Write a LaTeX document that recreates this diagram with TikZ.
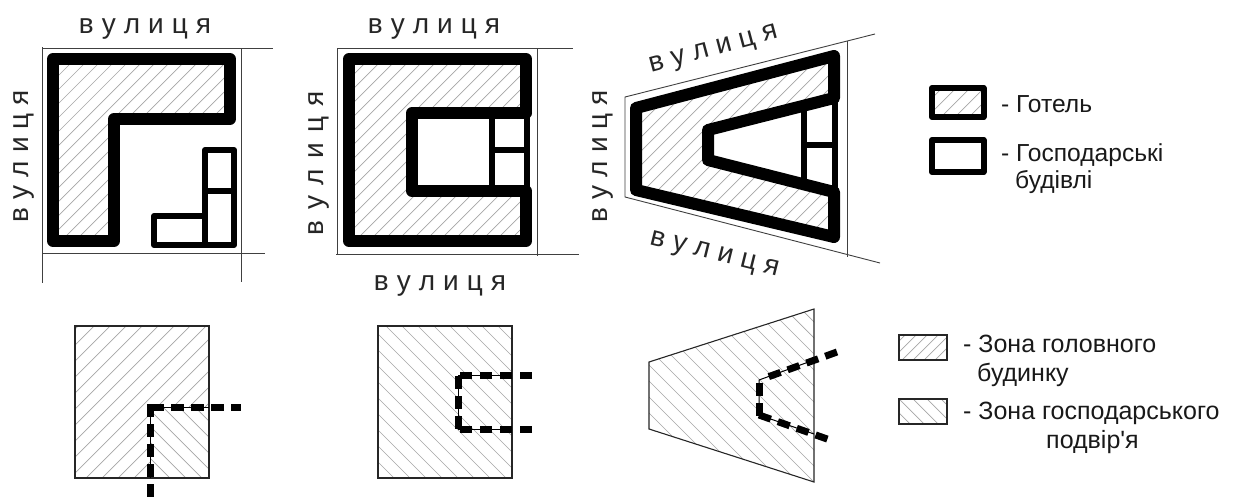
\documentclass[tikz,border=0pt]{standalone}
\usepackage{fontspec}
\setmainfont[Ligatures=TeXOff]{Liberation Sans}
\tikzset{
  street/.style={draw=black!75,line width=0.9pt},
  streetlabel/.style={font=\fontsize{28}{32}\selectfont,text=black!85,inner sep=0pt,anchor=base},
  hotelwall/.style={draw=black,line width=12pt,line join=round,line cap=round},
  legendwall/.style={draw=black,line width=6pt,line join=round},
  outwall/.style={draw=black,line width=6pt,line join=round},
  hatchline/.style={draw=black!35,line width=0.7pt},
  border/.style={draw=black!85,line width=1.1pt},
  thinline/.style={draw=black,line width=1pt},
  bold dash/.style={draw=black,line width=7pt,dash pattern=on 12.5pt off 7.5pt},
  legendtext/.style={font=\fontsize{24.6}{28}\selectfont,text=black!90,inner sep=0pt,anchor=base west},
  legendtextb/.style={font=\fontsize{25}{28}\selectfont,text=black!90,inner sep=0pt,anchor=base west},
}
\newcommand{\hatchF}[1]{\foreach \k in {0,#1,...,2400}{\draw[hatchline] (\k-900,600)--(\k-300,0);}}
\newcommand{\hatchB}[1]{\foreach \k in {0,#1,...,2400}{\draw[hatchline] (\k-900,0)--(\k-300,600);}}
\newcommand{\strt}{\spaceskip=8pt\relax в у л и ц я}
\newcommand{\strtw}{\spaceskip=10.4pt\relax в у л и ц я}
\begin{document}
\begin{tikzpicture}[x=1pt,y=-1pt]
\useasboundingbox (0,0) rectangle (1236,501);
\fill[white] (0,0) rectangle (1236,501);
% ---- plan 1
\begin{scope}\clip (53,59)--(230,59)--(230,119)--(114,119)--(114,241)--(53,241)--cycle;\hatchF{14}\end{scope}
\draw[hotelwall] (53,59)--(230,59)--(230,119)--(114,119)--(114,241)--(53,241)--cycle;
\draw[outwall] (205,150)--(234,150)--(234,245)--(154,245)--(154,216)--(205,216)--cycle;
\draw[outwall] (205,216)--(205,245);
\draw[outwall] (205,191)--(234,191);
\coordinate (a1) at (42,47); \coordinate (a2) at (42,283);
\coordinate (a3) at (241,48); \coordinate (a4) at (241,282);
\coordinate (a5) at (42,48.5); \coordinate (a6) at (273,48.5);
\coordinate (a7) at (42,253.5); \coordinate (a8) at (265,253.5);
\draw[street] (a1)--(a2); \draw[street] (a3)--(a4); \draw[street] (a5)--(a6); \draw[street] (a7)--(a8);
\node[streetlabel] (s1) at (145,33) {\strt};
\node[streetlabel,rotate=90] (s2) at (28,156) {\strt};
% ---- plan 2
\begin{scope}\clip (349,59)--(526,59)--(526,241)--(349,241)--cycle;\hatchF{14}\end{scope}
\fill[white] (412,113) rectangle (526,191);
\draw[hotelwall] (526,113)--(526,59)--(349,59)--(349,241)--(526,241)--(526,191)--(412,191)--(412,113)--(526,113);
\draw[outwall] (526.5,113)--(526.5,191);
\draw[outwall] (492,113)--(492,191);
\draw[outwall] (492,150)--(526,150);
\coordinate (b1) at (337,48); \coordinate (b2) at (337,254);
\coordinate (b3) at (537.5,48); \coordinate (b4) at (537.5,256);
\coordinate (b5) at (337,48.5); \coordinate (b6) at (573,48.5);
\coordinate (b7) at (336,254); \coordinate (b8) at (579,254);
\draw[street] (b1)--(b2); \draw[street] (b3)--(b4); \draw[street] (b5)--(b6); \draw[street] (b7)--(b8);
\node[streetlabel] (s3) at (434,33) {\strt};
\node[streetlabel] (s4) at (440,290) {\strt};
\node[streetlabel,rotate=90] (s5) at (323,163) {\strtw};
% ---- plan 3
\begin{scope}\clip (636,108)--(834,56)--(834,98)--(708,130)--(708,160)--(834,192)--(834,237)--(636,190)--cycle;\hatchF{14}\end{scope}
\draw[hotelwall] (834,98)--(834,56)--(636,108)--(636,190)--(834,237)--(834,192)--(708,160)--(708,130)--cycle;
\draw[outwall] (835,98)--(835,192);
\draw[outwall] (804,105)--(804,180);
\draw[outwall] (804,145)--(835,145);
\coordinate (c1) at (625,97); \coordinate (c2) at (875,34);
\coordinate (c3) at (625,197); \coordinate (c4) at (880,263);
\coordinate (c5) at (847,41); \coordinate (c6) at (847,257);
\draw[street] (c2)--(c1)--(c3)--(c4); \draw[street] (c5)--(c6);
\node[streetlabel,rotate=15] (s6) at (715,55) {\strt};
\node[streetlabel,rotate=-14] (s7) at (713,260) {\strt};
\node[streetlabel,rotate=90] (s8) at (607,156) {\strt};
% ---- legend 1
\begin{scope}\clip (932,88) rectangle (983.5,117);\hatchF{14}\end{scope}
\draw[legendwall] (932,88) rectangle (983.5,117);
\draw[legendwall] (932,140) rectangle (983.5,172);
\node[legendtext] (l1) at (1001,112) {- Готель};
\node[legendtext] (l2) at (1001,161) {- Господарські};
\node[legendtext] (l3) at (1015,188) {будівлі};
% ---- zones
\begin{scope}\clip (75,326) rectangle (209,478);\hatchF{16}\end{scope}
\fill[white] (150,408) rectangle (209,478);
\begin{scope}\clip (150,408) rectangle (209,478);\hatchB{16}\end{scope}
\draw[border] (75,326) rectangle (209,478);
\draw[thinline] (209,407.5)--(150,407.5)--(150,478);
\draw[bold dash] (151,407.5)--(241,407.5);
\draw[bold dash] (150,404)--(150,500);
\begin{scope}\clip (378,326) rectangle (512,478);\hatchB{16}\end{scope}
\draw[border] (378,326) rectangle (512,478);
\draw[thinline] (512,375)--(458,375)--(458,429)--(512,429);
\draw[bold dash] (532,375)--(455,375);
\draw[bold dash] (532,429)--(455,429);
\draw[bold dash] (458,376)--(458,429);
\begin{scope}\clip (649,362)--(814,309)--(814,482)--(649,429)--cycle;\hatchB{16}\end{scope}
\draw[border] (649,362)--(814,309)--(814,482)--(649,429)--cycle;
\draw[thinline] (814,360)--(759,380)--(759,415)--(814,434);
\draw[bold dash] (837,352)--(765,378);
\draw[bold dash] (759,383)--(759,416);
\draw[bold dash] (759,415)--(830,440);
% ---- legend 2
\begin{scope}\clip (899,335) rectangle (947,360);\hatchF{11}\end{scope}
\draw[border] (899,335) rectangle (947,360);
\begin{scope}\clip (899,399) rectangle (947,424);\hatchB{14}\end{scope}
\draw[border] (899,399) rectangle (947,424);
\node[legendtextb] (l4) at (963,352) {- Зона головного};
\node[legendtextb] (l5) at (977,381) {будинку};
\node[legendtextb] (l6) at (963,419) {- Зона господарського};
\node[legendtextb] (l7) at (1046,448) {подвір'я};
\end{tikzpicture}
\end{document}
